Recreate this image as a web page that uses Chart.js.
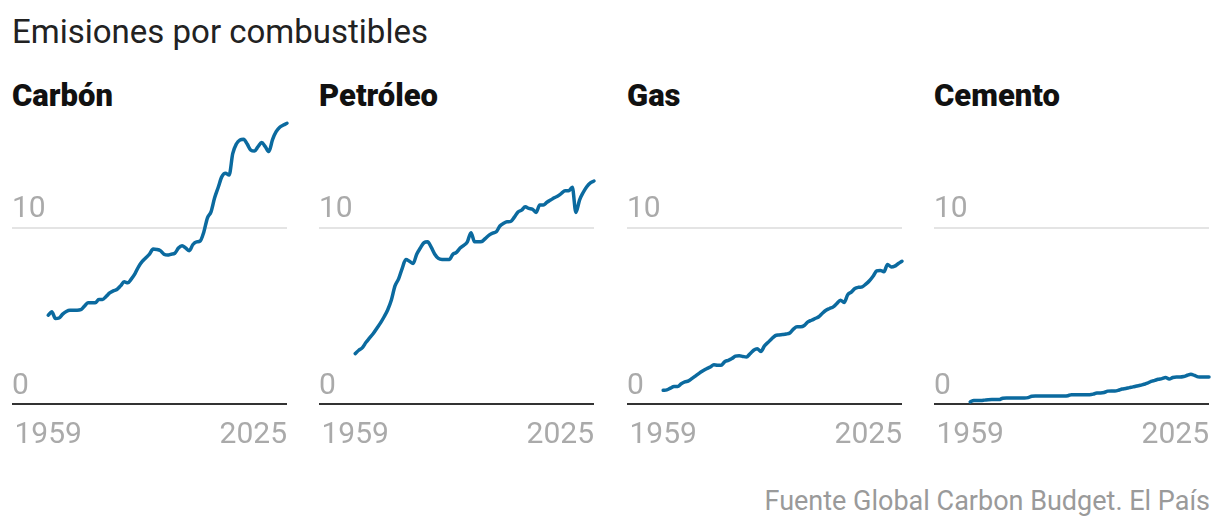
<!DOCTYPE html>
<html lang="es">
<head>
<meta charset="utf-8">
<title>Emisiones por combustibles</title>
<script src="https://cdn.jsdelivr.net/npm/chart.js@4.4.1/dist/chart.umd.min.js"></script>
<style>
  html, body { margin: 0; padding: 0; background: #fff; }
  body { width: 1220px; height: 530px; position: relative; overflow: hidden; font-family: Roboto, 'Noto Sans', sans-serif; }
  .title { position: absolute; left: 12px; top: 15px; font-size: 33px; line-height: 1; color: #222; }
  .panel-title { position: absolute; top: 80px; font-size: 31px; line-height: 1; font-weight: 900; color: #111; }
  .panel { position: absolute; top: 112px; }
  .source { position: absolute; right: 10px; top: 488px; font-size: 27px; line-height: 1; color: #9a9a9a; }
</style>
</head>
<body>
<div class="title">Emisiones por combustibles</div>
<div id="panels"></div>
<div class="source">Fuente Global Carbon Budget. El País</div>

<script>
// ── Data (GtCO2, 1959–2025) ───────────────────────────────
const years = [];
for (let y = 1959; y <= 2025; y++) years.push(y);

const fuels = ['Carbón', 'Petróleo', 'Gas', 'Cemento'];

const coal = [
  5.04, 5.23, 4.85, 4.88, 5.10, 5.25, 5.32, 5.32, 5.32, 5.35,
  5.55, 5.74, 5.74, 5.74, 5.93, 5.93, 6.10, 6.30, 6.42, 6.50,
  6.70, 6.93, 6.88, 7.10, 7.40, 7.80, 8.09, 8.30, 8.50, 8.79,
  8.77, 8.70, 8.50, 8.45, 8.50, 8.55, 8.85, 8.98, 8.85, 8.70,
  9.05, 9.20, 9.25, 9.75, 10.55, 10.90, 11.70, 12.30, 12.90, 13.09,
  12.99, 14.20, 14.75, 14.98, 15.02, 14.75, 14.40, 14.35, 14.60, 14.83,
  14.60, 14.32, 15.00, 15.45, 15.70, 15.83, 15.93
];

const oil = [
  2.86, 3.05, 3.20, 3.50, 3.75, 4.00, 4.30, 4.60, 4.95, 5.35,
  5.90, 6.70, 7.10, 7.70, 8.20, 8.10, 7.97, 8.50, 8.85, 9.15,
  9.20, 8.90, 8.50, 8.26, 8.20, 8.20, 8.20, 8.50, 8.60, 8.85,
  9.00, 9.20, 9.72, 9.20, 9.20, 9.22, 9.40, 9.58, 9.70, 9.77,
  10.10, 10.25, 10.34, 10.36, 10.60, 10.90, 11.00, 11.19, 11.10, 11.05,
  10.87, 11.29, 11.29, 11.45, 11.57, 11.70, 11.80, 11.95, 12.10, 12.10,
  12.30, 10.87, 11.57, 12.00, 12.33, 12.55, 12.65
];

const gas = [
  0.78, 0.80, 0.90, 1.00, 1.00, 1.15, 1.25, 1.31, 1.45, 1.60,
  1.75, 1.88, 2.00, 2.10, 2.22, 2.20, 2.20, 2.40, 2.48, 2.58,
  2.71, 2.74, 2.70, 2.67, 2.85, 3.05, 3.13, 2.98, 3.30, 3.50,
  3.70, 3.88, 3.92, 3.94, 3.97, 4.03, 4.25, 4.38, 4.38, 4.45,
  4.66, 4.75, 4.85, 4.95, 5.15, 5.32, 5.42, 5.51, 5.70, 5.89,
  5.76, 6.20, 6.35, 6.55, 6.62, 6.65, 6.80, 6.99, 7.25, 7.55,
  7.58, 7.50, 7.92, 7.78, 7.82, 7.97, 8.10
];

const cement = [
  0.12, 0.20, 0.20, 0.20, 0.22, 0.24, 0.25, 0.25, 0.25, 0.33,
  0.34, 0.34, 0.34, 0.34, 0.34, 0.34, 0.36, 0.44, 0.45, 0.45,
  0.45, 0.45, 0.45, 0.45, 0.45, 0.45, 0.45, 0.47, 0.53, 0.53,
  0.53, 0.53, 0.53, 0.53, 0.56, 0.63, 0.63, 0.65, 0.73, 0.74,
  0.74, 0.78, 0.85, 0.88, 0.93, 0.97, 1.02, 1.06, 1.12, 1.18,
  1.28, 1.34, 1.40, 1.44, 1.50, 1.42, 1.50, 1.53, 1.53, 1.56,
  1.63, 1.69, 1.62, 1.54, 1.53, 1.53, 1.53
];

const series = [coal, oil, gas, cement];

const yTicks = [0, 10];
const xTicks = [1959, 2025];
const xTickLabels = ['1959', '2025'];
const xStart = 1949;   // axis starts before the data, as in the original
const xEnd = 2025;

// ── Layout ───────────────────────────────────────────────
const PANEL_LEFT = [12, 319, 627, 934];
const PLOT_W = 275;
const PAD_R = 5;
const CANVAS_H = 338;
const LINE = '#0b6a9f';
const GREY = '#aaaaaa';

Chart.defaults.font.family = 'Roboto, "Noto Sans", sans-serif';

function makeChart(canvas, values) {
  return new Chart(canvas, {
    type: 'line',
    data: {
      datasets: [{
        data: years.map((yr, i) => ({ x: yr, y: values[i] })),
        borderColor: LINE,
        borderWidth: 3.5,
        pointRadius: 0,
        cubicInterpolationMode: 'monotone',
        borderCapStyle: 'round',
        borderJoinStyle: 'round',
        clip: false
      }]
    },
    options: {
      responsive: false,
      animation: false,
      layout: { autoPadding: false, padding: { top: 10, right: PAD_R, bottom: 0, left: 0 } },
      plugins: { legend: { display: false }, tooltip: { enabled: false } },
      scales: {
        x: {
          type: 'linear',
          min: xStart,
          max: xEnd,
          grid: { display: false, drawTicks: false },
          border: { display: false },
          afterBuildTicks: s => { s.ticks = [{ value: xStart }].concat(xTicks.map(v => ({ value: v }))); },
          afterFit: s => { s.height = 46; s.paddingLeft = 0; s.paddingRight = 0; },
          ticks: {
            autoSkip: false,
            maxRotation: 0,
            align: 'inner',
            padding: 13,
            color: GREY,
            font: { size: 30 },
            callback: v => { const i = xTicks.indexOf(v); return i < 0 ? '' : xTickLabels[i]; }
          }
        },
        y: {
          min: 0,
          max: 16,
          afterBuildTicks: s => { s.ticks = yTicks.map(v => ({ value: v })); },
          afterFit: s => { s.width = 0; s.paddingTop = 0; s.paddingBottom = 0; },
          border: { display: false },
          grid: {
            drawTicks: false,
            color: c => c.tick && c.tick.value === 0 ? '#333333' : '#e4e4e4',
            lineWidth: 2
          },
          ticks: {
            mirror: true,
            padding: 0,
            labelOffset: -18,
            color: GREY,
            font: { size: 30 }
          }
        }
      }
    }
  });
}

// ── Build panels ─────────────────────────────────────────
const host = document.getElementById('panels');
fuels.forEach((name, i) => {
  const t = document.createElement('div');
  t.className = 'panel-title';
  t.style.left = PANEL_LEFT[i] + 'px';
  t.textContent = name;
  host.appendChild(t);

  const c = document.createElement('canvas');
  c.className = 'panel';
  c.width = PLOT_W + PAD_R;
  c.height = CANVAS_H;
  c.style.left = PANEL_LEFT[i] + 'px';
  host.appendChild(c);

  makeChart(c, series[i]);
});
</script>
</body>
</html>
